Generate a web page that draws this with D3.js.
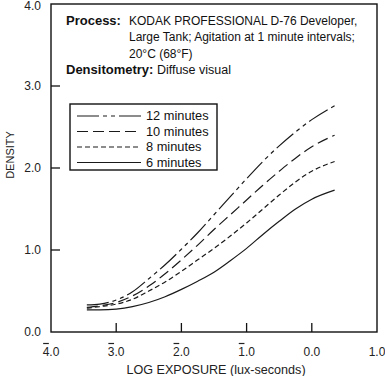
<!DOCTYPE html>
<html>
<head>
<meta charset="utf-8">
<script src="https://cdn.jsdelivr.net/npm/d3@7"></script>
<style>
  body { margin: 0; background: #fff; }
  svg { display: block; font-family: "Liberation Sans", Arial, sans-serif; }
  .curve { fill: none; stroke: #1a1a1a; stroke-width: 1.2; }
</style>
</head>
<body>
<div id="chart"></div>
<script>
// log exposure (lux-seconds) sample points
const logExposure = [-3.45, -3.25, -3.0, -2.75, -2.5, -2.25, -2.0, -1.75, -1.5, -1.25, -1.0, -0.75, -0.5, -0.25, 0.0, 0.35]

const density12 = [0.33, 0.34, 0.39, 0.49, 0.65, 0.82, 1.01, 1.21, 1.43, 1.65, 1.87, 2.08, 2.27, 2.44, 2.59, 2.76]
const density10 = [0.30, 0.32, 0.36, 0.44, 0.56, 0.71, 0.88, 1.06, 1.25, 1.43, 1.61, 1.79, 1.96, 2.12, 2.26, 2.40]
const density8  = [0.29, 0.31, 0.34, 0.40, 0.50, 0.61, 0.74, 0.88, 1.02, 1.17, 1.33, 1.50, 1.67, 1.83, 1.96, 2.08]
const density6  = [0.27, 0.27, 0.28, 0.31, 0.36, 0.43, 0.52, 0.62, 0.73, 0.87, 1.02, 1.19, 1.35, 1.50, 1.62, 1.73]

const seriesNames = ['12 minutes', '10 minutes', '8 minutes', '6 minutes']
const seriesDash = ['22,4,4,4,4,4', '11,5', '5,3', null]

const yTicks = [0, 1, 2, 3, 4]
const xTicks = [-4, -3, -2, -1, 0, 1]
const xTickBar = ['4', '3', '2', '1', null, null]   // characteristic digits written with a bar

const width = 385, height = 376
const margin = {left: 51, right: 8, top: 4, bottom: 44}

let svg = d3.select('#chart').append('svg')
  .attr('width', width)
  .attr('height', height)

let x = d3.scaleLinear().domain([-4, 1]).range([margin.left, width - margin.right])
let y = d3.scaleLinear().domain([0, 4]).range([height - margin.bottom, margin.top])

// frame
svg.append('rect')
  .attr('x', x(-4)).attr('y', y(4))
  .attr('width', x(1) - x(-4)).attr('height', y(0) - y(4))
  .attr('fill', 'none').attr('stroke', '#111').attr('stroke-width', 1.4)

// y ticks (inside)
svg.append('g').selectAll('line')
  .data(yTicks.filter(d => d > 0 && d < 4))
  .enter().append('line')
  .attr('x1', x(-4)).attr('x2', x(-4) + 9)
  .attr('y1', d => y(d)).attr('y2', d => y(d))
  .attr('stroke', '#111').attr('stroke-width', 1.3)

svg.append('g').selectAll('text')
  .data(yTicks)
  .enter().append('text')
  .attr('x', 41).attr('y', d => Math.max(y(d), 6))
  .attr('dy', '0.35em')
  .attr('text-anchor', 'end')
  .attr('font-size', 12)
  .attr('fill', '#222')
  .text(d => d.toFixed(1))

// x ticks (inside)
svg.append('g').selectAll('line')
  .data(xTicks.filter(d => d > -4 && d < 1))
  .enter().append('line')
  .attr('x1', d => x(d)).attr('x2', d => x(d))
  .attr('y1', y(0)).attr('y2', y(0) - 9)
  .attr('stroke', '#111').attr('stroke-width', 1.3)

let xLabels = svg.append('g').selectAll('text')
  .data(xTicks)
  .enter().append('text')
  .attr('x', d => x(d)).attr('y', 356)
  .attr('text-anchor', 'middle')
  .attr('font-size', 12)
  .attr('fill', '#222')
  .text((d, i) => xTickBar[i] ? xTickBar[i] + '.0' : Math.abs(d).toFixed(1))

// bars over negative characteristics
xLabels.each(function(d, i) {
  if (!xTickBar[i]) return
  let start = this.getStartPositionOfChar(0)
  let w = this.getSubStringLength(0, 1)
  svg.append('line')
    .attr('x1', start.x + 0.5).attr('x2', start.x + w - 0.5)
    .attr('y1', 343.5).attr('y2', 343.5)
    .attr('stroke', '#222').attr('stroke-width', 1.2)
})

svg.append('text')
  .attr('x', 216).attr('y', 374)
  .attr('text-anchor', 'middle')
  .attr('font-size', 12.6)
  .attr('fill', '#222')
  .text('LOG EXPOSURE (lux-seconds)')

svg.append('text')
  .attr('transform', 'translate(14,' + 155 + ') rotate(-90)')
  .attr('text-anchor', 'middle')
  .attr('font-size', 11)
  .attr('fill', '#222')
  .text('DENSITY')

// process note
let note = svg.append('g').attr('font-size', 12).attr('fill', '#111')
note.append('text').attr('x', 66).attr('y', 25).attr('font-weight', 'bold').attr('font-size', 13).text('Process:')
note.append('text').attr('x', 129).attr('y', 25).text('KODAK PROFESSIONAL D-76 Developer,')
note.append('text').attr('x', 129).attr('y', 41).text('Large Tank; Agitation at 1 minute intervals;')
note.append('text').attr('x', 129).attr('y', 58).text('20°C (68°F)')
let dens = note.append('text').attr('x', 66).attr('y', 74)
dens.append('tspan').attr('font-weight', 'bold').attr('font-size', 13).text('Densitometry:')
dens.append('tspan').attr('font-size', 12.5).text(' Diffuse visual')

// curves
let series = [density12, density10, density8, density6]

let line = d3.line()
  .x((d, i) => x(logExposure[i]))
  .y(d => y(d))
  .curve(d3.curveMonotoneX)

svg.append('g').selectAll('path')
  .data(series)
  .enter().append('path')
  .attr('class', 'curve')
  .attr('d', d => line(d))
  .attr('stroke-dasharray', (d, i) => seriesDash[i])

// legend
let legend = svg.append('g')
legend.append('rect')
  .attr('x', 70).attr('y', 104).attr('width', 147).attr('height', 66)
  .attr('fill', '#fff').attr('stroke', '#111').attr('stroke-width', 1.4)

let entries = legend.selectAll('g.entry')
  .data(seriesNames)
  .enter().append('g')
  .attr('transform', (d, i) => 'translate(0,' + (116 + i * 15.5) + ')')

entries.append('line')
  .attr('x1', 77).attr('x2', 141)
  .attr('stroke', '#1a1a1a').attr('stroke-width', 1.2)
  .attr('stroke-dasharray', (d, i) => seriesDash[i])

entries.append('text')
  .attr('x', 146).attr('dy', '0.35em')
  .attr('font-size', 12.8)
  .attr('fill', '#111')
  .text(d => d)
</script>
</body>
</html>
